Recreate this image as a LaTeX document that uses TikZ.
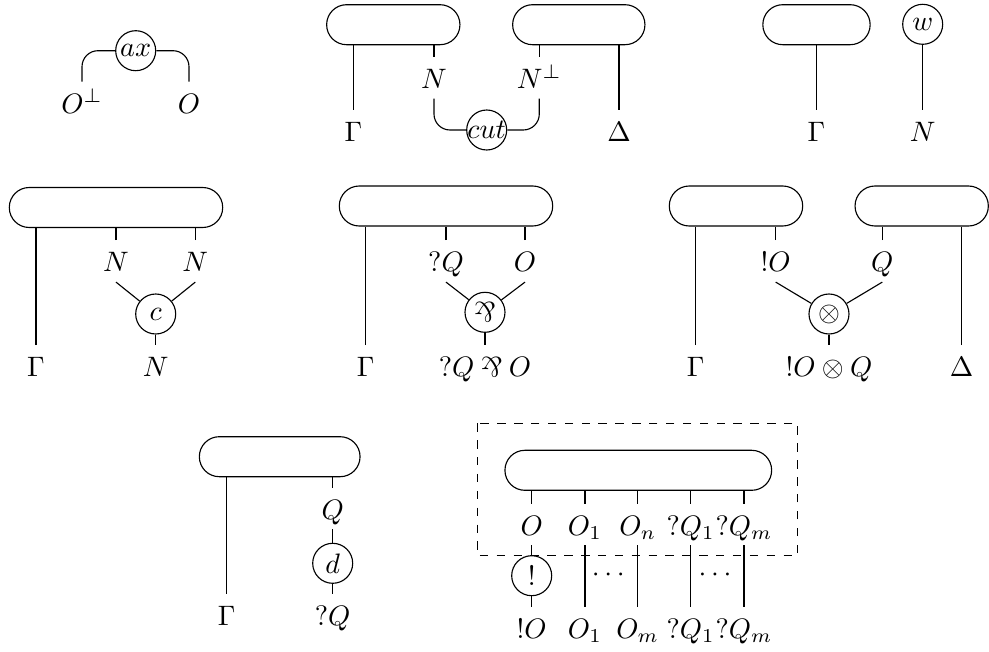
\documentclass[tikz,border=0pt]{standalone}
\newcommand\myparr{\mathbin{\rotatebox[origin=c]{180}{$\&$}}}
\begin{document}
\begin{tikzpicture}[x=0.125mm,y=-0.125mm,
  box/.style={rectangle, rounded corners=2.49mm, draw, minimum height=5mm, minimum width=#1*0.125mm, inner sep=0pt},
  gate/.style={circle, draw, inner sep=0pt, minimum size=5mm},
  lab/.style={inner sep=0pt, text height=11pt, text depth=3.5pt, anchor=base},
  leg/.style={rounded corners=2mm}]
\useasboundingbox (0,0) rectangle (989,652);
% ---- ax
\node[gate] (ax) at (135.7,50.7) {$ax$};
\node[lab] (ol) at (82,113) {$O^\perp$};
\node[lab] (or) at (189,113) {$O$};
\draw[leg] (ol.north) |- (ax.west);
\draw[leg] (or.north) |- (ax.east);
% ---- cut
\node[box=133.3] (b1) at (393.3,24.7) {};
\node[box=132.3] (b2) at (578.8,24.7) {};
\node[lab] (g1) at (353.3,141) {$\Gamma$};
\node[lab] (n1) at (434,88.3) {$N$};
\node[lab] (np) at (539.3,88.3) {$N^\perp$};
\node[lab] (d1) at (619,141) {$\Delta$};
\node[gate] (cut) at (486.7,130) {\makebox[0pt]{$cut$}};
\draw (g1.north) -- (g1.north |- b1.south);
\draw (n1.north) -- (n1.north |- b1.south);
\draw (np.north) -- (np.north |- b2.south);
\draw (d1.north) -- (d1.north |- b2.south);
\draw[leg] (n1.south) |- (cut.west);
\draw[leg] (np.south) |- (cut.east);
% ---- weakening
\node[box=107.3] (b3) at (816.5,24.7) {};
\node[lab] (g2) at (816.5,141) {$\Gamma$};
\node[gate] (w) at (922.7,24.3) {$w$};
\node[lab] (n2) at (922.7,141) {$N$};
\draw (g2.north) -- (g2.north |- b3.south);
\draw (w) -- (n2.north);
% ---- contraction
\node[box=213.4] (b4) at (116,207.5) {};
\node[lab] (g3) at (36,376.7) {$\Gamma$};
\node[lab] (na) at (116,271.7) {$N$};
\node[lab] (nb) at (195.3,271.7) {$N$};
\node[gate] (c) at (155.7,314) {$c$};
\node[lab] (nc) at (155.7,376.7) {$N$};
\draw (g3.north) -- (g3.north |- b4.south);
\draw (na.north) -- (na.north |- b4.south);
\draw (nb.north) -- (nb.north |- b4.south);
\draw (na.south) -- (c);
\draw (nb.south) -- (c);
\draw (c) -- (nc.north);
% ---- par
\node[box=213.4] (b5) at (446,206) {};
\node[lab] (g4) at (365.7,376.7) {$\Gamma$};
\node[lab] (qq) at (446,271.7) {$?Q$};
\node[lab] (o5) at (525,271.7) {$O$};
\node[gate] (par) at (485,312.3) {$\myparr$};
\node[lab] (parl) at (485,376.7) {$?Q \myparr O$};
\draw (g4.north) -- (g4.north |- b5.south);
\draw (qq.north) -- (qq.north |- b5.south);
\draw (o5.north) -- (o5.north |- b5.south);
\draw (qq.south) -- (par);
\draw (o5.south) -- (par);
\draw (par) -- (parl.north);
% ---- tensor
\node[box=133.4] (b6) at (736,206) {};
\node[box=133.3] (b7) at (921.7,206) {};
\node[lab] (g5) at (695.7,376.7) {$\Gamma$};
\node[lab] (bo) at (775.7,271.7) {$!O$};
\node[lab] (q6) at (882.3,271.7) {$Q$};
\node[gate] (ten) at (829,314) {$\otimes$};
\node[lab] (tenl) at (829,376.7) {$!O \otimes Q$};
\node[lab] (d2) at (961.7,376.7) {$\Delta$};
\draw (g5.north) -- (g5.north |- b6.south);
\draw (bo.north) -- (bo.north |- b6.south);
\draw (q6.north) -- (q6.north |- b7.south);
\draw (d2.north) -- (d2.north |- b7.south);
\draw (bo.south) -- (ten);
\draw (q6.south) -- (ten);
\draw (ten) -- (tenl.north);
% ---- dereliction
\node[box=160.7] (b8) at (279.7,456.7) {};
\node[lab] (g6) at (226.7,625) {$\Gamma$};
\node[lab] (q7) at (332.7,519) {$Q$};
\node[gate] (d) at (332.7,563.3) {$d$};
\node[lab] (qq7) at (332.7,625) {$?Q$};
\draw (g6.north) -- (g6.north |- b8.south);
\draw (q7.north) -- (q7.north |- b8.south);
\draw (q7.south) -- (d);
\draw (d) -- (qq7.north);
% ---- promotion
\draw[dashed] (477.3,423.3) rectangle (797.7,555.7);
\node[box=266.7] (b9) at (638.3,470.3) {};
\node[lab] (u0) at (531.7,535) {$O$};
\node[lab] (u1) at (585,535) {$O_1$};
\node[lab] (u2) at (637.7,535) {$O_n$};
\node[lab] (u3) at (690.7,535) {$?Q_1$};
\node[lab] (u4) at (744,535) {$?Q_m$};
\node[gate] (bang) at (531.7,575.7) {$!$};
\node[lab] (l0) at (531.7,638.3) {$!O$};
\node[lab] (l1) at (585,638.3) {$O_1$};
\node[lab] (l2) at (637.7,638.3) {$O_m$};
\node[lab] (l3) at (690.7,638.3) {$?Q_1$};
\node[lab] (l4) at (744,638.3) {$?Q_m$};
\node (dots1) at (608.3,575) {$\cdots$};
\node (dots2) at (715,575) {$\cdots$};
\foreach \i in {u0,u1,u2,u3,u4} {\draw (\i.north) -- (\i.north |- b9.south);}
\draw (u0.south) -- (bang);
\draw (bang) -- (l0.north);
\foreach \i in {1,2,3,4} {\draw (u\i.south) -- (l\i.north);}
\end{tikzpicture}
\end{document}
